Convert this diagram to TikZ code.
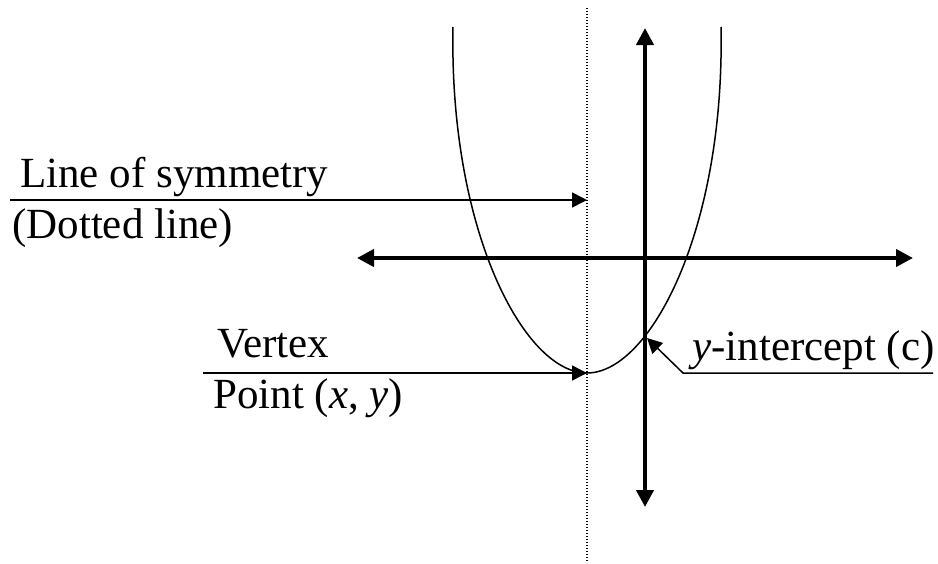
\documentclass[tikz,border=0pt]{standalone}
\usepackage{fontspec}
\setmainfont{Liberation Serif}
\usetikzlibrary{arrows.meta}
\tikzset{
  axisline/.style={line width=4pt, {Triangle[length=17pt,width=17pt]}-{Triangle[length=17pt,width=17pt]}},
  leader/.style={line width=1.5pt, -{Triangle[length=15pt,width=15pt]}},
  symline/.style={line width=1.2pt, dash pattern=on 1.4pt off 1.6pt},
  curve/.style={line width=1.5pt},
  lbl/.style={anchor=base west, inner sep=0pt, font=\fontsize{43}{50}\selectfont}
}
\begin{document}
\begin{tikzpicture}[x=1pt,y=-1pt]
\useasboundingbox (0,0) rectangle (938,563);
% dotted line of symmetry
\coordinate (symtop) at (587,8);
\coordinate (symbot) at (587,562);
\draw[symline] (symtop) -- (symbot);
% axes
\coordinate (ytop) at (645,28);
\coordinate (ybot) at (645,507);
\coordinate (xleft) at (357,258);
\coordinate (xright) at (913,258);
\draw[axisline] (ybot) -- (ytop);
\draw[axisline] (xleft) -- (xright);
% parabola
\coordinate (pl) at (453,27);
\coordinate (vtx) at (587,373);
\coordinate (pr) at (721,27);
\draw[curve] (pl) .. controls (449,230) and (524,373) .. (vtx)
  .. controls (650,373) and (725,230) .. (pr);
% labels
\node[lbl] (los) at (20,187) {Line of symmetry};
\node[lbl] (dl) at (12,238) {(Dotted line)};
\node[lbl] (vx) at (217,357) {Vertex};
\node[lbl] (pt) at (213,408) {Point (\textit{x}, \textit{y})};
\node[lbl] (yi) at (692,360) {\textit{y}-intercept (c)};
% leaders
\coordinate (losstart) at (10,200);
\coordinate (losend) at (587,200);
\draw[leader] (losstart) -- (losend);
\coordinate (vxstart) at (203,373);
\draw[leader] (vxstart) -- (vtx);
\coordinate (yistart) at (933,373);
\coordinate (yibend) at (683,373);
\coordinate (yiend) at (647,338);
\draw[leader] (yistart) -- (yibend) -- (yiend);
\end{tikzpicture}
\end{document}
